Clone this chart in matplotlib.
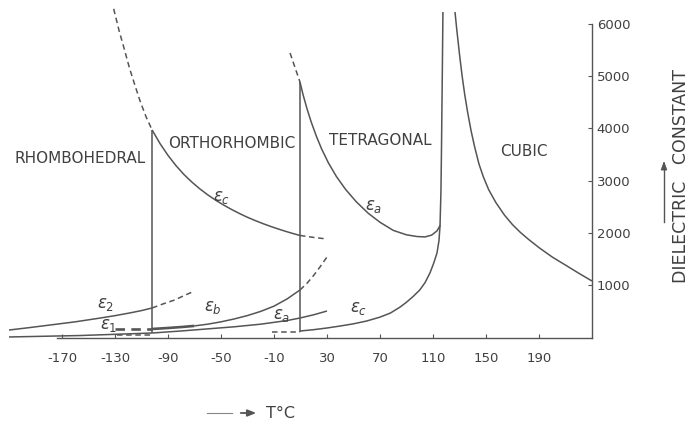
import matplotlib.pyplot as plt

# BaTiO3 single crystal: dielectric constant vs temperature, branch by branch
# rhombohedral phase
rh_e2_T = [-210, -195, -179, -160, -141, -130, -119, -110, -102]
rh_e2 = [143, 188, 239, 300, 373, 418, 469, 515, 565]
rh_e2_ext_T = [-102, -94, -85, -78, -70]
rh_e2_ext = [565, 640, 718, 800, 890]
rh_e1_T = [-210, -156, -102]
rh_e1 = [10, 38, 86]

# orthorhombic phase
or_ec_ext_T = [-131, -127, -123, -119, -115, -111, -106.5, -102]
or_ec_ext = [6290, 5880, 5520, 5150, 4830, 4520, 4220, 3972]
or_ec_T = [-102, -96, -90, -84, -78, -72, -66, -60, -54, -48, -42, -36,
           -30, -24, -18, -12, -6, 0, 5, 9.6]
or_ec = [3972, 3710, 3485, 3290, 3120, 2975, 2845, 2730, 2627, 2535, 2450,
         2372, 2300, 2236, 2176, 2121, 2070, 2022, 1985, 1953]
or_ec_tail_T = [9.6, 20, 30]
or_ec_tail = [1953, 1915, 1885]
or_eb_lead_T = [-130, -102]
or_eb_lead = [163, 163]
or_eb_T = [-102, -90, -80, -70, -60, -50, -40, -30, -20, -10, 0, 9.6]
or_eb = [163, 182, 200, 222, 255, 300, 355, 420, 500, 600, 740, 909]
or_eb_tail_T = [9.6, 15, 20, 25, 30]
or_eb_tail = [909, 1040, 1190, 1360, 1541]
or_ea_lead_T = [-128.5, -103.6]
or_ea_lead = [48, 48]
or_ea_T = [-102, -80, -60, -40, -20, 0, 9.6, 20, 30]
or_ea = [86, 125, 165, 205, 255, 325, 373, 435, 507]

# tetragonal phase
te_ea_lead_T = [2.1, 9.6]
te_ea_lead = [5445, 4890]
te_ea_T = [9.6, 12, 15, 18, 22, 26, 31, 37, 44, 52, 61, 70, 80, 90, 98,
           104, 109, 113, 115.5]
te_ea = [4890, 4640, 4370, 4130, 3850, 3605, 3345, 3085, 2835, 2600, 2380,
         2205, 2050, 1965, 1932, 1925, 1960, 2040, 2150]
te_ec_lead_T = [-11.5, 9.6]
te_ec_lead = [105, 105]
te_ec_T = [9.6, 20, 30, 40, 50, 60, 70, 78, 85, 90, 95, 100, 104, 107.7,
           110.5, 113, 114.5, 115.3, 116, 116.4, 117, 117.5]
te_ec = [124, 150, 182, 220, 262, 316, 390, 470, 580, 675, 785, 909, 1050,
         1235, 1420, 1617, 1850, 2134, 2800, 3589, 5000, 6230]

# cubic phase
cu_e_T = [126.6, 128, 130, 132, 134, 136, 138.7, 141.5, 144.7, 148, 152,
          157.5, 164, 170, 176, 182, 190, 200, 211, 220, 230]
cu_e = [6230, 5880, 5420, 5000, 4640, 4330, 3960, 3640, 3320, 3075, 2830,
        2580, 2340, 2160, 2010, 1880, 1720, 1540, 1370, 1230, 1081]

# jumps at the phase transitions
jump_T = [-102, 9.6]
jump_lo = [86, 105]
jump_hi = [3972, 4890]

x_ticks = [-170, -130, -90, -50, -10, 30, 70, 110, 150, 190]
y_ticks = [1000, 2000, 3000, 4000, 5000, 6000]

phase_names = ["RHOMBOHEDRAL", "ORTHORHOMBIC", "TETRAGONAL", "CUBIC"]
phase_T = [-156.5, -41.7, 70, 178.7]
phase_eps = [3435, 3722, 3761, 3550]

eps_names = [r"$\epsilon_2$", r"$\epsilon_1$", r"$\epsilon_c$", r"$\epsilon_b$",
             r"$\epsilon_a$", r"$\epsilon_a$", r"$\epsilon_c$"]
eps_T = [-136.8, -134.5, -49.2, -56, -4, 65.5, 54]
eps_pos = [640, 230, 2690, 580, 440, 2510, 570]

line_c = "#555555"
text_c = "#404040"
lw = 1.1
dash = (3.6, 2.4)

fig = plt.figure(figsize=(6.91, 4.28), dpi=100)
ax = fig.add_axes([9 / 691, 1 - 337.5 / 428, 583 / 691, 331.5 / 428])


def solid(T, e, w=lw):
    ax.plot(T, e, color=line_c, lw=w, solid_capstyle="butt", solid_joinstyle="round")


def dashed(T, e, w=lw):
    ax.plot(T, e, color=line_c, lw=w, dashes=dash)


solid(rh_e2_T, rh_e2)
dashed(rh_e2_ext_T, rh_e2_ext)
solid(rh_e1_T, rh_e1)

dashed(or_ec_ext_T, or_ec_ext)
solid(or_ec_T, or_ec)
dashed(or_ec_tail_T, or_ec_tail)
dashed(or_eb_lead_T, or_eb_lead, w=1.9)
solid(or_eb_T[:4], or_eb[:4], w=1.9)
solid(or_eb_T[3:], or_eb[3:])
dashed(or_eb_tail_T, or_eb_tail)
dashed(or_ea_lead_T, or_ea_lead)
solid(or_ea_T, or_ea)

dashed(te_ea_lead_T, te_ea_lead)
solid(te_ea_T, te_ea)
dashed(te_ec_lead_T, te_ec_lead)
solid(te_ec_T, te_ec)

solid(cu_e_T, cu_e)

ax.vlines(jump_T, jump_lo, jump_hi, color=line_c, lw=lw)

for name, t, e in zip(phase_names, phase_T, phase_eps):
    ax.text(t, e, name, ha="center", va="center", fontsize=11, color=text_c)
for name, t, e in zip(eps_names, eps_T, eps_pos):
    ax.text(t, e, name, ha="center", va="center", fontsize=12, color=text_c)

ax.set_xlim(-210, 230)
ax.set_ylim(0, 6344)
for side in ["top", "left"]:
    ax.spines[side].set_visible(False)
ax.spines["bottom"].set_bounds(-174, 230)
ax.spines["right"].set_bounds(0, 6000)
for side in ["bottom", "right"]:
    ax.spines[side].set_color(line_c)
    ax.spines[side].set_linewidth(1.0)

ax.set_xticks(x_ticks)
ax.set_xticklabels([str(v) for v in x_ticks])
ax.set_yticks(y_ticks)
ax.set_yticklabels([str(v) for v in y_ticks])
ax.yaxis.tick_right()
ax.tick_params(axis="x", direction="in", length=3, pad=10.5, labelsize=9.5,
               colors=line_c, labelcolor=text_c)
ax.tick_params(axis="y", direction="in", length=3, pad=3.5, labelsize=9.5,
               colors=line_c, labelcolor=text_c)

# axis captions
fig.text(681 / 691, 1 - 176 / 428, "DIELECTRIC   CONSTANT", rotation=90,
         ha="center", va="center", fontsize=12.5, color=text_c)
fig.add_artist(plt.Line2D([664 / 691, 664 / 691], [1 - 222 / 428, 1 - 168 / 428],
                          color=line_c, lw=1.0))
ax.annotate("", xy=(664 / 691, 1 - 158 / 428), xytext=(664 / 691, 1 - 170 / 428),
            xycoords="figure fraction", textcoords="figure fraction",
            arrowprops=dict(arrowstyle="-|>,head_length=0.5,head_width=0.18",
                            color=line_c, lw=1.0))

fig.add_artist(plt.Line2D([207 / 691, 232 / 691], [1 - 413 / 428, 1 - 413 / 428],
                          color="#888888", lw=0.8))
ax.annotate("", xy=(259 / 691, 1 - 413 / 428), xytext=(238 / 691, 1 - 413 / 428),
            xycoords="figure fraction", textcoords="figure fraction",
            arrowprops=dict(arrowstyle="-|>,head_length=0.5,head_width=0.2",
                            color=line_c, lw=1.3))
fig.text(281 / 691, 1 - 413 / 428, "T°C", ha="center", va="center",
         fontsize=11.5, color=text_c)

fig.savefig("out.png", dpi=100)
